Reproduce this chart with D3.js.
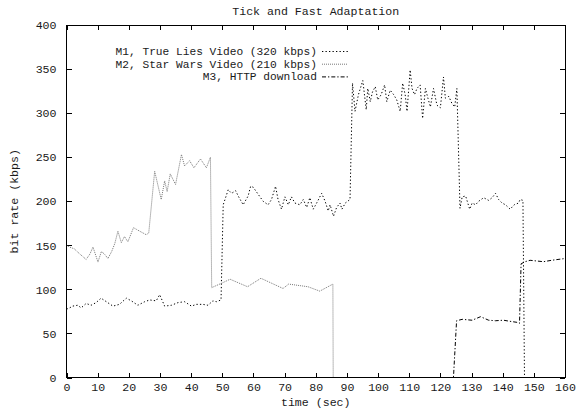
<!DOCTYPE html>
<html>
<head>
<meta charset="utf-8">
<script src="https://cdn.jsdelivr.net/npm/d3@7"></script>
<style>
  body { margin: 0; background: #fff; }
  svg { display: block; font-family: 'Liberation Mono', 'DejaVu Sans Mono', monospace; font-size: 11.6px; fill: #1a1a1a; }
</style>
</head>
<body>
<svg width="579" height="409"></svg>
<script>
WIDTH = 579;
HEIGHT = 409;

// [time (sec), bit rate (kbps)]
const M1_POINTS = [
  [0, 78], [0.5, 78], [2, 81], [3.6, 82], [4.7, 79], [6.3, 84], [7.9, 82], [9.5, 85],
  [11.1, 90], [12.8, 86], [14.9, 81], [17, 83], [19.2, 90], [20.8, 87], [22.9, 82],
  [25.1, 86], [26.7, 88], [28.8, 87], [29.9, 94], [31.5, 81], [33.7, 82], [35.8, 85],
  [37.9, 86], [40.1, 81], [41.7, 83], [43.8, 83], [45.4, 82], [47, 87], [48.1, 86],
  [49.6, 88], [50.3, 196], [51.9, 213], [53, 209], [54.3, 212], [55.1, 206], [56.7, 196],
  [58.3, 206], [59.1, 217], [59.9, 216], [61.5, 208], [63.1, 200], [64.7, 196], [65.8, 202],
  [67.1, 217], [67.9, 202], [69, 191], [70.1, 205], [71.2, 196], [72.2, 205], [73.3, 198],
  [74.9, 196], [76, 202], [77.1, 193], [78.1, 204], [79.2, 191], [80.3, 198], [81.9, 209],
  [83, 200], [84, 189], [84.6, 196], [85.7, 183], [86.7, 193], [87.8, 198], [88.4, 191],
  [89.5, 198], [91, 202], [91.8, 334], [92.6, 302], [93.7, 321], [95.1, 337], [96.2, 304],
  [96.7, 328], [97.5, 313], [98.2, 324], [99.1, 330], [99.9, 315], [101, 321], [102.1, 332],
  [102.8, 313], [103.9, 326], [105, 321], [106, 315], [107.1, 302], [107.9, 334], [108.7, 321],
  [109.3, 302], [110.3, 349], [110.9, 328], [111.7, 321], [112.5, 328], [113.5, 332],
  [114.3, 294], [115.2, 328], [116, 317], [116.8, 307], [117.8, 328], [118.9, 309], [120, 306],
  [121, 341], [121.6, 317], [122.7, 319], [123.7, 311], [124.6, 307], [125.3, 328],
  [126.3, 192], [127, 205], [128.1, 206], [129.4, 191], [130.2, 198], [131.3, 196],
  [132.3, 200], [133.9, 204], [135.5, 201], [136.6, 204], [137.7, 209], [138.7, 202],
  [139.8, 198], [140.9, 196], [142.4, 191], [143.7, 196], [145.1, 198], [145.6, 202],
  [146.5, 201], [147, 0],
];

const M2_POINTS = [
  [0, 150], [1, 148], [2.5, 146], [4, 141], [5.3, 137], [6.3, 134], [7.5, 140], [8.5, 148],
  [10.1, 131], [11.2, 143], [12.2, 140], [13.3, 135], [14.5, 143], [15.5, 152], [16.5, 166],
  [17.6, 153], [18.6, 160], [19.7, 154], [21.5, 170], [22.5, 168], [23.5, 166], [25.6, 162],
  [26.4, 164], [28.3, 234], [30.4, 202], [31.5, 223], [32.3, 211], [33.3, 231], [35, 219],
  [36.9, 253], [37.9, 240], [39.5, 246], [40.9, 238], [43, 248], [44.9, 238], [46.2, 250],
  [46.6, 102], [49.8, 107], [52.5, 111.5], [58.1, 103], [62.4, 112.6], [69.5, 101],
  [71.3, 106], [77.5, 103], [81.3, 98], [85.5, 106], [85.6, 0],
];

const M3_POINTS = [
  [0, 0], [124.2, 0], [125.2, 64.4], [127, 66], [130.2, 65], [132.9, 69], [135.5, 65],
  [137.7, 64.4], [140.3, 65], [141.9, 64], [144.6, 62.6], [145.4, 61.5], [145.9, 129],
  [147.2, 131.4], [148.8, 133], [153.1, 131.4], [155.7, 133], [160, 135],
];

const X_TICKS = d3.range(0, 161, 10);
const Y_TICKS = d3.range(0, 401, 50);

const SERIES = [
  {label: 'M1, True Lies Video (320 kbps)', points: M1_POINTS, color: '#000', dash: '1.3,2.2'},
  {label: 'M2, Star Wars Video (210 kbps)', points: M2_POINTS, color: '#777', dash: '1,1'},
  {label: 'M3, HTTP download', points: M3_POINTS, color: '#000', dash: '4,2,1.3,2'},
];

function drawChart() {
  const margin = {top: 25, right: 14, bottom: 31.5, left: 66.5};
  const width = WIDTH - margin.left - margin.right;
  const height = HEIGHT - margin.top - margin.bottom;

  const x = d3.scaleLinear().domain([0, 160]).range([0, width]);
  const y = d3.scaleLinear().domain([0, 400]).range([height, 0]);

  const svg = d3.select('svg');

  svg.append('text')
    .attr('x', margin.left + width / 2)
    .attr('y', 15)
    .attr('text-anchor', 'middle')
    .text('Tick and Fast Adaptation');

  const g = svg.append('g')
    .attr('transform', `translate(${margin.left}, ${margin.top})`);

  // ticks point inward, mirrored on top and right (gnuplot look)
  const tickLen = 5;
  const axisStyle = (sel) => {
    sel.select('.domain').remove();
    sel.selectAll('.tick line').attr('stroke', '#000').attr('shape-rendering', 'crispEdges');
    sel.selectAll('.tick text').attr('fill', '#1a1a1a').style('font-size', '11.6px')
      .style('font-family', "'Liberation Mono', monospace");
  };

  g.append('g')
    .attr('transform', `translate(0, ${height})`)
    .call(d3.axisBottom(x).tickValues(X_TICKS).tickSize(-tickLen).tickPadding(5.5))
    .call(axisStyle);
  g.append('g')
    .call(d3.axisTop(x).tickValues(X_TICKS).tickSize(-tickLen).tickFormat(''))
    .call(axisStyle);
  g.append('g')
    .call(d3.axisLeft(y).tickValues(Y_TICKS).tickSize(-tickLen).tickPadding(10))
    .call(axisStyle);
  g.append('g')
    .attr('transform', `translate(${width}, 0)`)
    .call(d3.axisRight(y).tickValues(Y_TICKS).tickSize(-tickLen).tickFormat(''))
    .call(axisStyle);

  g.append('text')
    .attr('x', width / 2)
    .attr('y', height + 28)
    .attr('text-anchor', 'middle')
    .text('time (sec)');

  g.append('text')
    .attr('transform', 'rotate(-90)')
    .attr('x', -height / 2)
    .attr('y', -margin.left + 18)
    .attr('text-anchor', 'middle')
    .text('bit rate (kbps)');

  const line = d3.line()
    .x((d) => x(d[0]))
    .y((d) => y(d[1]));

  g.selectAll('.series')
    .data(SERIES)
    .join('path')
    .attr('class', 'series')
    .attr('fill', 'none')
    .attr('stroke', (d) => d.color)
    .attr('stroke-width', 1)
    .attr('stroke-dasharray', (d) => d.dash)
    .attr('d', (d) => line(d.points));

  g.append('rect')
    .attr('width', width)
    .attr('height', height)
    .attr('fill', 'none')
    .attr('stroke', '#000')
    .attr('shape-rendering', 'crispEdges');

  // legend
  const rowH = 12.7;
  const legend = svg.append('g')
    .attr('transform', 'translate(317, 55)')
    .style('font-size', '11.2px');
  SERIES.forEach((s, i) => {
    legend.append('text')
      .attr('x', 0)
      .attr('y', i * rowH)
      .attr('text-anchor', 'end')
      .text(s.label);
    legend.append('line')
      .attr('x1', 5)
      .attr('x2', 31)
      .attr('y1', i * rowH - 3.5)
      .attr('y2', i * rowH - 3.5)
      .attr('stroke', s.color)
      .attr('stroke-dasharray', s.dash);
  });
}

drawChart();
</script>
</body>
</html>
